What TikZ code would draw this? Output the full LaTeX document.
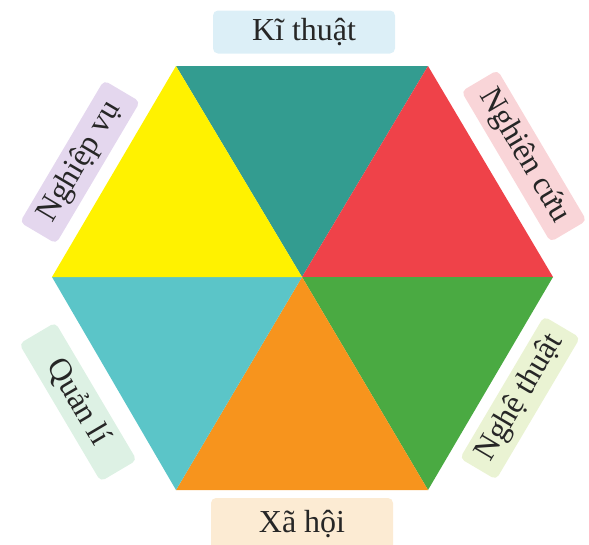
\documentclass[tikz,border=0pt]{standalone}
\usepackage{fontspec}
\setmainfont{Liberation Serif}
\definecolor{cteal}{HTML}{339C90}
\definecolor{cred}{HTML}{EF4249}
\definecolor{cyellow}{HTML}{FFF200}
\definecolor{cgreen}{HTML}{4AAA42}
\definecolor{corange}{HTML}{F7941D}
\definecolor{ccyan}{HTML}{5BC5C8}
\definecolor{lblue}{HTML}{DCEFF7}
\definecolor{lpink}{HTML}{F9D5D8}
\definecolor{llime}{HTML}{EAF3D3}
\definecolor{lpeach}{HTML}{FCEBD3}
\definecolor{lmint}{HTML}{DDF1E4}
\definecolor{llilac}{HTML}{E4D7EE}
\begin{document}
\begin{tikzpicture}[x=1pt,y=-1pt,
  lab/.style={rounded corners=5pt, minimum height=42pt, minimum width=168pt,
    inner sep=0pt, text=black!85, font=\fontsize{32}{37}\selectfont}]
\useasboundingbox (0,0) rectangle (589,544);
\coordinate (O) at (302,277);
\coordinate (A) at (176,66);
\coordinate (B) at (428,66);
\coordinate (C) at (553,277);
\coordinate (D) at (428,490);
\coordinate (E) at (176,490);
\coordinate (F) at (52,277);
\fill[cteal] (A) -- (B) -- (O) -- cycle;
\fill[cred] (B) -- (C) -- (O) -- cycle;
\fill[cgreen] (C) -- (D) -- (O) -- cycle;
\fill[corange] (D) -- (E) -- (O) -- cycle;
\fill[ccyan] (E) -- (F) -- (O) -- cycle;
\fill[cyellow] (F) -- (A) -- (O) -- cycle;
\node[lab, fill=lblue, minimum width=182pt, minimum height=43pt] (kt) at (304,32) {Kĩ thuật};
\node[lab, fill=lpeach, minimum width=182pt, minimum height=52pt] (xh) at (302,524) {Xã hội};
\node[lab, fill=lpink, rotate=-59.4, minimum width=175pt] (nc) at (524,156) {Nghiên cứu};
\node[lab, fill=llime, rotate=59.4, minimum width=165pt] (nt) at (520,398) {Nghệ thuật};
\node[lab, fill=lmint, rotate=-59.4, minimum width=160pt] (ql) at (78,402) {Quản lí};
\node[lab, fill=llilac, rotate=59.4, minimum width=165pt] (nv) at (80,162) {Nghiệp vụ};
\end{tikzpicture}
\end{document}
